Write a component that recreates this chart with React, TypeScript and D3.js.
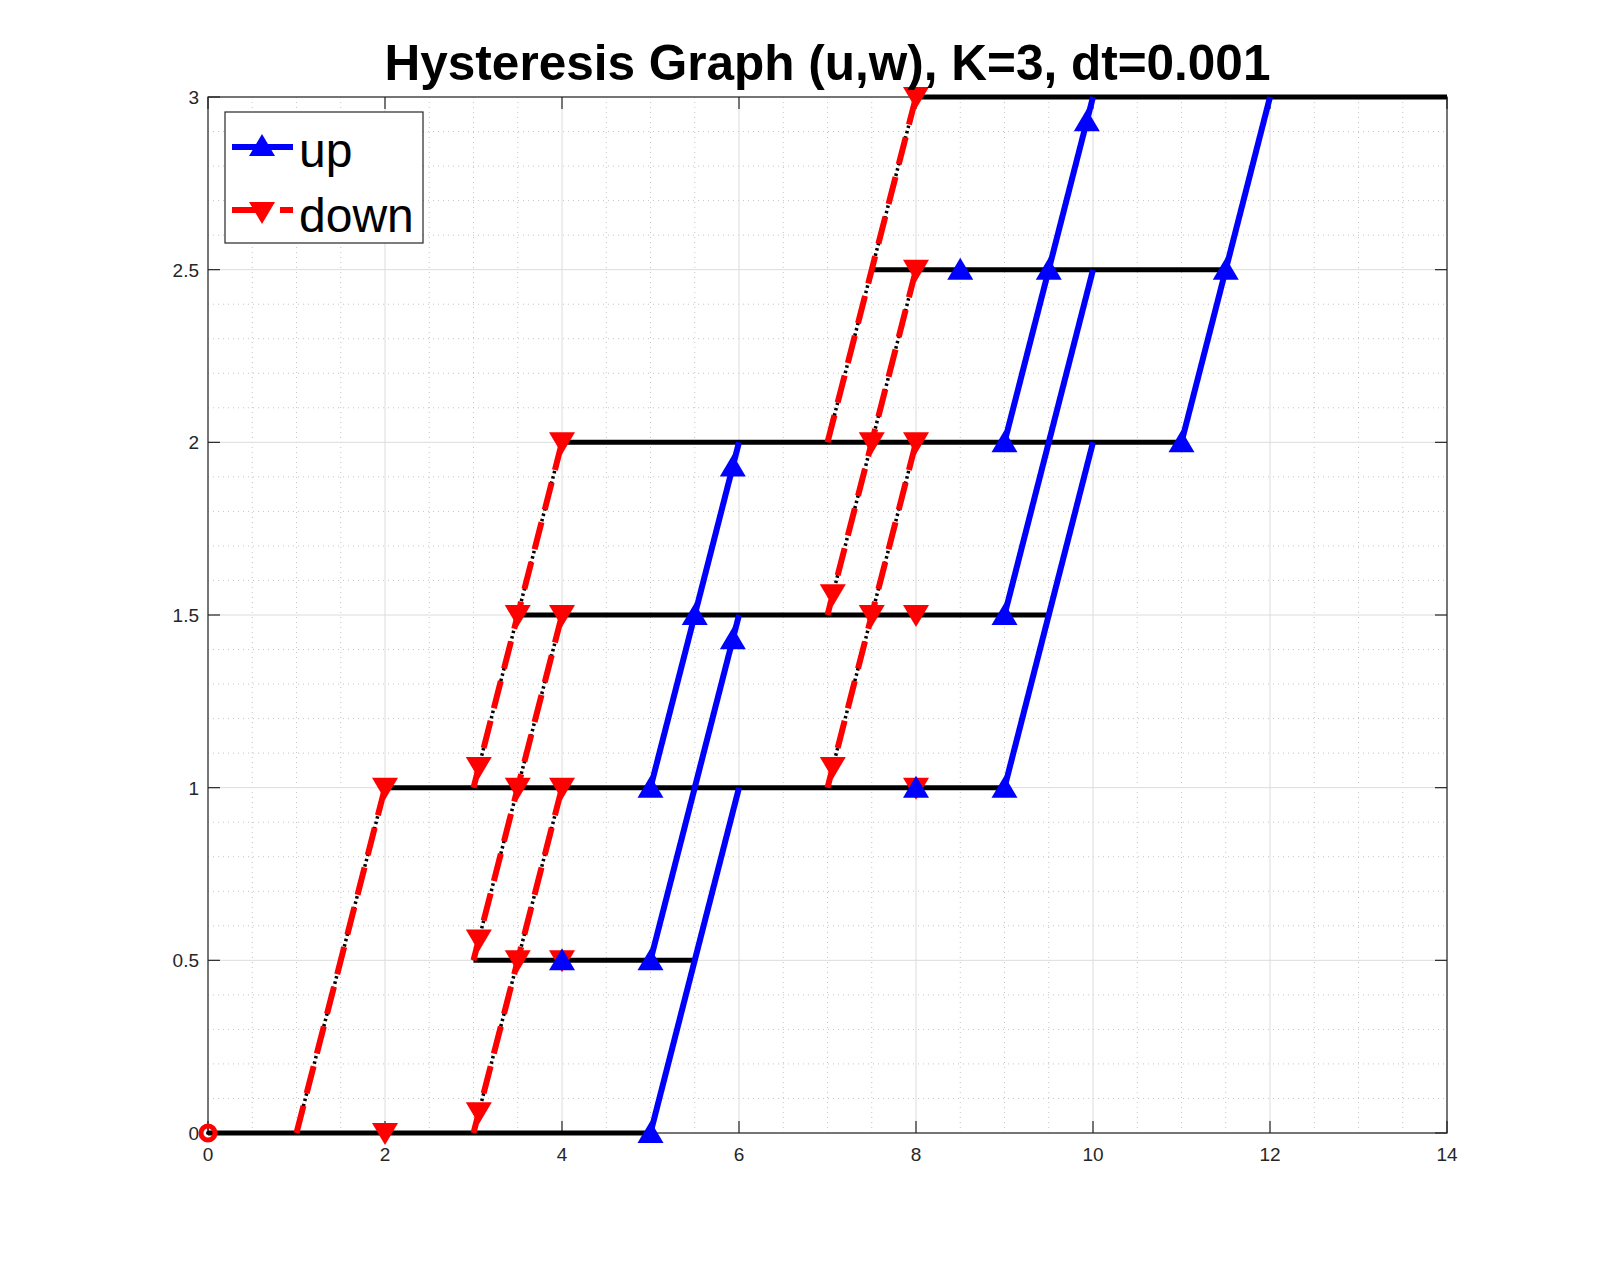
import React from 'react';
import * as d3 from 'd3';

const width = 1600;
const height = 1274;
const margin = { top: 97, right: 153, bottom: 141, left: 208 };

const xTicks = [0, 2, 4, 6, 8, 10, 12, 14];
const yTicks = [0, 0.5, 1, 1.5, 2, 2.5, 3];

// flat parts of the (u,w) path: [uStart, uEnd, w]
const flatSegments = [
  [0, 5, 0],
  [3, 5.5, 0.5],
  [2, 9, 1],
  [3.5, 9.5, 1.5],
  [4, 11, 2],
  [7.5, 11.5, 2.5],
  [8, 14, 3],
];

// slanted jumps: [u0, w0, u1, w1]
const downSegments = [
  [1, 0, 2, 1],
  [3, 0, 4, 1],
  [3, 0.5, 4, 1.5],
  [3, 1, 4, 2],
  [7, 1, 8, 2],
  [7, 1.5, 8, 2.5],
  [7, 2, 8, 3],
];

const upSegments = [
  [5, 0, 6, 1],
  [5, 0.5, 6, 1.5],
  [5, 1, 6, 2],
  [9, 1, 10, 2],
  [9, 1.5, 10, 2.5],
  [9, 2, 10, 3],
  [11, 2, 12, 3],
];

const downMarkers = [
  [2, 0], [2, 1],
  [3.06, 0.06], [3.06, 0.56], [3.06, 1.06],
  [3.5, 0.5], [3.5, 1], [3.5, 1.5],
  [4, 0.5], [4, 1], [4, 1.5], [4, 2],
  [7.06, 1.06], [7.06, 1.56],
  [7.5, 1.5], [7.5, 2],
  [8, 1], [8, 1.5], [8, 2], [8, 2.5], [8, 3],
];

const upMarkers = [
  [4, 0.5], [5, 0], [5, 0.5], [5, 1], [5.5, 1.5],
  [5.93, 1.43], [5.93, 1.93],
  [8, 1], [8.5, 2.5],
  [9, 1], [9, 1.5], [9, 2], [9.5, 2.5], [9.93, 2.93],
  [11, 2], [11.5, 2.5],
];

const startPoint = [0, 0];

const x = d3.scaleLinear().domain([0, 14]).range([margin.left, width - margin.right]);
const y = d3.scaleLinear().domain([0, 3]).range([height - margin.bottom, margin.top]);

const upTri = 'M0,-12 L13,10 L-13,10 Z';
const downTri = 'M0,12 L13,-10 L-13,-10 Z';

const font = '"Liberation Sans", Arial, Helvetica, sans-serif';

const App = () => {
  const x0 = x(0), x1 = x(14), y0 = y(0), y1 = y(3);
  const minorX = d3.range(0, 14.001, 0.5).filter((v) => Math.abs(v / 2 - Math.round(v / 2)) > 1e-6);
  const minorY = d3.range(0, 3.001, 0.1).filter((v) => Math.abs(v * 2 - Math.round(v * 2)) > 1e-6);
  const line = d3.line();

  return (
    <svg width={width} height={height} style={{ position: 'absolute', left: 0, top: 0, background: '#fff' }}>
      {/* minor grid */}
      <g stroke="#c4c4c4" strokeWidth={1} strokeDasharray="1 4">
        {minorX.map((v) => (
          <line key={'mx' + v} x1={x(v)} x2={x(v)} y1={y0} y2={y1} />
        ))}
        {minorY.map((v) => (
          <line key={'my' + v} x1={x0} x2={x1} y1={y(v)} y2={y(v)} />
        ))}
      </g>
      {/* major grid */}
      <g stroke="#dcdcdc" strokeWidth={1}>
        {xTicks.map((v) => (
          <line key={'gx' + v} x1={x(v)} x2={x(v)} y1={y0} y2={y1} />
        ))}
        {yTicks.map((v) => (
          <line key={'gy' + v} x1={x0} x2={x1} y1={y(v)} y2={y(v)} />
        ))}
      </g>
      {/* box and ticks */}
      <g stroke="#262626" strokeWidth={1.2} fill="none">
        <rect x={x0} y={y1} width={x1 - x0} height={y0 - y1} />
        {xTicks.map((v) => (
          <g key={'tx' + v}>
            <line x1={x(v)} x2={x(v)} y1={y0} y2={y0 - 12} />
            <line x1={x(v)} x2={x(v)} y1={y1} y2={y1 + 12} />
          </g>
        ))}
        {yTicks.map((v) => (
          <g key={'ty' + v}>
            <line x1={x0} x2={x0 + 12} y1={y(v)} y2={y(v)} />
            <line x1={x1} x2={x1 - 12} y1={y(v)} y2={y(v)} />
          </g>
        ))}
      </g>
      <g fontFamily={font} fontSize={19} fill="#262626">
        {xTicks.map((v) => (
          <text key={'lx' + v} x={x(v)} y={y0 + 28} textAnchor="middle">{v}</text>
        ))}
        {yTicks.map((v) => (
          <text key={'ly' + v} x={x0 - 9} y={y(v) + 7} textAnchor="end">{v}</text>
        ))}
      </g>

      {/* black trajectory */}
      <g stroke="#000" fill="none">
        {flatSegments.map((s, i) => (
          <path key={'f' + i} d={line([[x(s[0]), y(s[2])], [x(s[1]), y(s[2])]]) as string} strokeWidth={5} />
        ))}
        {[...downSegments, ...upSegments].map((s, i) => (
          <path
            key={'bs' + i}
            d={line([[x(s[0]), y(s[1])], [x(s[2]), y(s[3])]]) as string}
            strokeWidth={3.5}
            strokeDasharray="2.5 3"
          />
        ))}
      </g>

      {/* down jumps */}
      <g stroke="#ff0000" fill="none" strokeWidth={6}>
        {downSegments.map((s, i) => (
          <path
            key={'d' + i}
            d={line([[x(s[0]), y(s[1])], [x(s[2]), y(s[3])]]) as string}
            strokeDasharray="28 13"
          />
        ))}
      </g>
      {/* up jumps */}
      <g stroke="#0000ff" fill="none" strokeWidth={6}>
        {upSegments.map((s, i) => (
          <path key={'u' + i} d={line([[x(s[0]), y(s[1])], [x(s[2]), y(s[3])]]) as string} />
        ))}
      </g>

      {/* markers */}
      <g fill="#ff0000">
        {downMarkers.map((p, i) => (
          <path key={'dm' + i} d={downTri} transform={`translate(${x(p[0])},${y(p[1])})`} />
        ))}
      </g>
      <g fill="#0000ff">
        {upMarkers.map((p, i) => (
          <path key={'um' + i} d={upTri} transform={`translate(${x(p[0])},${y(p[1])})`} />
        ))}
      </g>
      <circle cx={x(startPoint[0])} cy={y(startPoint[1])} r={7} fill="none" stroke="#ff0000" strokeWidth={5} />
      <circle cx={x(startPoint[0])} cy={y(startPoint[1])} r={2} fill="#000" />

      {/* title */}
      <text
        x={(x0 + x1) / 2}
        y={80}
        textAnchor="middle"
        fontFamily={font}
        fontWeight="bold"
        fontSize={49.5}
        fill="#000"
      >
        Hysteresis Graph (u,w), K=3, dt=0.001
      </text>

      {/* legend */}
      <g>
        <rect x={225} y={112} width={198} height={131} fill="#fff" stroke="#262626" strokeWidth={1.2} />
        <line x1={232} x2={293} y1={147} y2={147} stroke="#0000ff" strokeWidth={6} />
        <path d={upTri} transform="translate(262,146)" fill="#0000ff" />
        <line x1={232} x2={293} y1={210} y2={210} stroke="#ff0000" strokeWidth={6} strokeDasharray="26 22" />
        <path d={downTri} transform="translate(262,212)" fill="#ff0000" />
        <text x={299} y={167} fontFamily={font} fontSize={48} fill="#000">up</text>
        <text x={299} y={232} fontFamily={font} fontSize={48} fill="#000">down</text>
      </g>
    </svg>
  );
};

export default App;
